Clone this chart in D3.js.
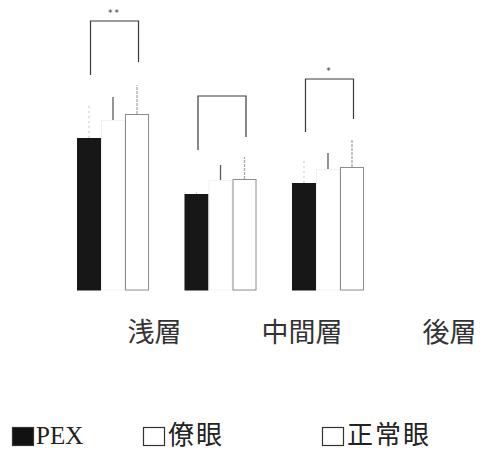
<!DOCTYPE html>
<html>
<head>
<meta charset="utf-8">
<script src="https://cdn.jsdelivr.net/npm/d3@7"></script>
<style>
  html, body { margin: 0; padding: 0; background: #fff; }
  svg { display: block; }
</style>
</head>
<body>
<svg id="chart" width="484" height="450"></svg>
<script>
// Layers of the eye measured in each group
const layers = ["浅層", "中間層", "後層"];
// Series shown for each layer
const series = ["PEX", "僚眼", "正常眼"];

// Mean values per layer (後層 has no measurement)
const pexValues    = [15.2, 9.6, 10.7, null];
const fellowValues = [17.0, 11.0, 12.1, null];
const normalValues = [17.6, 11.1, 12.3, null];

// Upper error (SD) per layer
const pexErrors    = [3.3, 0.4, 2.5, null];
const fellowErrors = [2.3, 1.5, 1.6, null];
const normalErrors = [2.9, 2.2, 2.7, null];

// Significance brackets between PEX and 正常眼
const bracketTops   = [26.9, 19.4, 21.1];
const bracketLeft   = [21.5, 14.0, 15.8];
const bracketRight  = [22.8, 15.3, 17.1];
const bracketMarks  = ["**", "", "*"];

const svg = d3.select("#chart");

const y = d3.scaleLinear().domain([0, 29]).range([290, 0]);

// Bar groups
const x = d3.scaleBand().domain(layers).range([77, 364]).paddingInner(0.33).paddingOuter(0);
const xs = d3.scaleBand().domain(series).range([0, x.bandwidth()]);

// Category label positions along the bottom
const xLabel = d3.scalePoint().domain(layers).range([154.5, 449.5]);

const valuesBySeries = { "PEX": pexValues, "僚眼": fellowValues, "正常眼": normalValues };
const errorsBySeries = { "PEX": pexErrors, "僚眼": fellowErrors, "正常眼": normalErrors };

const barStyle = {
  "PEX":   { fill: "#171717", stroke: "#171717" },
  "僚眼":  { fill: "#ffffff", stroke: "#f2f2f2" },
  "正常眼": { fill: "#ffffff", stroke: "#8c8c8c" }
};
const errStyle = {
  "PEX":   { stroke: "#d6d6d6", dash: "2,3" },
  "僚眼":  { stroke: "#5a5a5a", dash: null },
  "正常眼": { stroke: "#a8a8a8", dash: "3,1" }
};

const rows = [];
layers.forEach((layer, i) => {
  series.forEach(s => {
    const v = valuesBySeries[s][i];
    if (v != null) rows.push({ layer, s, v, e: errorsBySeries[s][i] });
  });
});

// Error bars (upward only)
svg.append("g").selectAll("line").data(rows).join("line")
  .attr("x1", d => x(d.layer) + xs(d.s) + xs.bandwidth() / 2)
  .attr("x2", d => x(d.layer) + xs(d.s) + xs.bandwidth() / 2)
  .attr("y1", d => y(d.v))
  .attr("y2", d => y(d.v + d.e))
  .attr("stroke", d => errStyle[d.s].stroke)
  .attr("stroke-width", 1.3)
  .attr("stroke-dasharray", d => errStyle[d.s].dash);

// Bars
svg.append("g").selectAll("rect").data(rows).join("rect")
  .attr("x", d => x(d.layer) + xs(d.s) + 0.5)
  .attr("y", d => y(d.v) + 0.5)
  .attr("width", xs.bandwidth() - 1)
  .attr("height", d => y(0) - y(d.v) - 0.5)
  .attr("fill", d => barStyle[d.s].fill)
  .attr("stroke", d => barStyle[d.s].stroke)
  .attr("stroke-width", 1);

// Significance brackets
const brackets = layers.map((layer, i) => ({
  layer, top: bracketTops[i], left: bracketLeft[i], right: bracketRight[i], mark: bracketMarks[i]
})).filter(b => b.top != null && pexValues[layers.indexOf(b.layer)] != null);

const bg = svg.append("g");
brackets.forEach(b => {
  const xl = x(b.layer) + xs("PEX") + xs.bandwidth() / 2 + 1.5;
  const xr = x(b.layer) + xs("正常眼") + xs.bandwidth() / 2 + 1.5;
  bg.append("path")
    .attr("d", d3.line()([[xl, y(b.left)], [xl, y(b.top)], [xr, y(b.top)], [xr, y(b.right)]]))
    .attr("fill", "none")
    .attr("stroke", "#3a3a3a")
    .attr("stroke-width", 1.2);
  if (b.mark) {
    bg.append("text")
      .attr("x", (xl + xr) / 2)
      .attr("y", y(b.top) - 5)
      .attr("text-anchor", "middle")
      .attr("font-family", "DejaVu Sans")
      .attr("font-size", 9)
      .attr("letter-spacing", 2)
      .attr("fill", "#333")
      .text(b.mark);
  }
});

// Category labels
svg.append("g").selectAll("text").data(layers).join("text")
  .attr("x", d => xLabel(d))
  .attr("y", 342)
  .attr("text-anchor", "middle")
  .attr("font-family", "Noto Sans CJK JP")
  .attr("font-size", 27)
  .attr("fill", "#333")
  .text(d => d);

// Legend
const legendX = [12, 143, 322];
const lg = svg.append("g").selectAll("g").data(series).join("g")
  .attr("transform", (d, i) => `translate(${legendX[i]},0)`);
lg.append("rect")
  .attr("x", 0.5).attr("y", 427.5)
  .attr("width", 21).attr("height", 18)
  .attr("fill", d => d === "PEX" ? "#111" : "#fff")
  .attr("stroke", "#333")
  .attr("stroke-width", 1.2);
lg.append("text")
  .attr("x", d => d === "PEX" ? 24 : 25)
  .attr("y", 444)
  .attr("font-family", d => d === "PEX" ? "Liberation Serif" : "Noto Sans CJK JP")
  .attr("font-size", d => d === "PEX" ? 25 : 26)
  .attr("letter-spacing", d => d === "PEX" ? 0 : 2)
  .attr("fill", "#222")
  .text(d => d);
</script>
</body>
</html>
